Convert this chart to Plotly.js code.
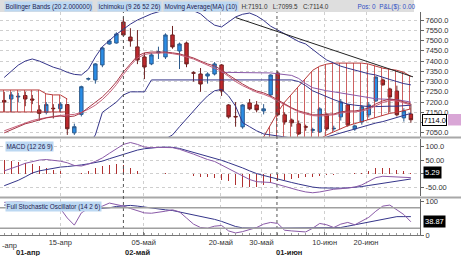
<!DOCTYPE html>
<html><head><meta charset="utf-8">
<script src="https://cdn.plot.ly/plotly-3.0.1.min.js"></script>
<style>html,body{margin:0;padding:0;background:#fff}#c{width:461px;height:256px}</style>
</head><body><div id="c"></div>
<script>
// ---- data (index = trading day) ----
const idx = Array.from({length:59},(_,i)=>i);
const openP  = [7208,7215,7225,7232,7215,7162,7150,7170,7168,7188,7050,7140,7312,7308,7381,7483,7488,7590,7517,7469,7420,7386,7440,7420,7527,7449,7488,7343,7337,7327,7337,7381,7186,7130,7079,7196,7186,7157,7235,7342,7138,7113,7094,7080,7062,7055,7138,7070,7128,7186,7069,7103,7138,7206,7308,7264,7254,7123,7142];
const highP  = [7250,7250,7245,7250,7235,7185,7200,7190,7200,7190,7095,7280,7320,7390,7470,7505,7540,7614,7560,7551,7440,7440,7470,7535,7571,7490,7495,7350,7366,7345,7395,7385,7190,7200,7190,7215,7205,7190,7335,7350,7150,7120,7110,7090,7075,7175,7145,7085,7215,7190,7090,7185,7200,7325,7315,7270,7280,7170,7191];
const lowP   = [7152,7150,7200,7180,7190,7110,7140,7120,7150,7040,7040,7130,7305,7290,7370,7480,7485,7520,7470,7385,7312,7380,7410,7410,7460,7361,7370,7300,7250,7290,7330,7230,7120,7080,7070,7160,7150,7140,7225,7130,7090,7080,7040,7060,7050,7050,7060,7060,7110,7080,7060,7090,7125,7200,7280,7150,7130,7105,7099.5];
const closeP = [7200,7235,7228,7215,7210,7145,7188,7168,7190,7070,7080,7275,7314,7386,7464,7498,7532,7527,7498,7405,7371,7430,7445,7527,7469,7483,7386,7341,7288,7337,7386,7254,7128,7128,7186,7167,7162,7167,7332,7138,7103,7099,7045,7078,7066,7167,7069,7072,7201,7089,7084,7177,7186,7322,7284,7225,7138,7157,7114];

const bbUpper = [7320,7350,7380,7400,7410,7400,7385,7370,7360,7345,7335,7332,7360,7420,7470,7500,7530,7555,7580,7600,7615,7630,7640,7650,7660,7665,7660,7645,7630,7600,7575,7566,7590,7615,7628,7634,7620,7598,7570,7551,7535,7515,7495,7483,7455,7430,7405,7390,7375,7365,7355,7345,7338,7332,7320,7310,7300,7290,7284];
const bbLower = [7000,6990,6985,6980,6975,6975,6970,6965,6960,6960,6955,6950,6950,6955,6960,6970,6980,6985,6990,6995,7000,7005,7010,7020,7040,7080,7120,7160,7195,7230,7255,7262,7230,7180,7100,7080,7060,7045,7040,7035,7030,7025,7020,7015,7015,7020,7030,7040,7050,7060,7070,7080,7090,7098,7105,7115,7125,7135,7145];
const bbMiddle = [7060,7072,7085,7098,7110,7118,7125,7130,7135,7138,7140,7150,7165,7185,7212,7245,7285,7335,7378,7415,7432,7438,7440,7440,7436,7430,7420,7410,7395,7380,7368,7350,7325,7300,7280,7262,7248,7238,7224,7205,7186,7168,7152,7142,7134,7132,7136,7138,7146,7152,7152,7156,7166,7184,7198,7208,7206,7196,7186];
const ma10 = [7050,7065,7080,7094,7103,7113,7123,7128,7132,7128,7132,7147,7172,7196,7225,7259,7298,7347,7386,7425,7440,7444,7444,7444,7440,7435,7425,7415,7400,7386,7376,7357,7332,7308,7288,7269,7254,7245,7230,7211,7191,7172,7157,7147,7138,7138,7142,7142,7152,7157,7157,7162,7172,7191,7206,7215,7211,7201,7191];
const kijun = [6990,6990,6990,6990,6990,6990,6990,6990,6990,6990,6990,6990,6990,7040,7150,7175,7200,7235,7250,7250,7250,7308,7308,7308,7308,7308,7308,7308,7308,7308,7308,7308,7308,7308,7308,7308,7308,7308,7308,7308,7308,7308,7300,7280,7255,7240,7225,7212,7200,7190,7185,7180,7178,7178,7180,7180,7180,7182,7185];
const tenkan = [null,null,null,null,null,null,null,null,null,null,null,null,null,null,null,null,null,null,null,null,null,null,null,null,null,null,null,null,null,null,null,7345,7345,7345,7345,7345,7345,7345,7342,7338,7335,7330,7315,7290,7270,7262,7255,7250,7245,7240,7235,7230,7222,7216,7215,7215,7212,7206,7200];
const cloud1X = [-0.6,0,1,2,3,4,5,6,7,8,9];
const cloud1Top = [7259,7259,7259,7259,7259,7259,7259,7240,7235,7235,7215];
const cloud1Bot = [7152,7152,7152,7152,7152,7152,7152,7152,7152,7152,7152];
const cloud2X = [37,38,39,40,41,42,43,44,45,46,47,48,49,50,51,52,53,54,55,56,57,58];
const cloud2Top = [7030,7090,7150,7200,7240,7280,7320,7355,7375,7385,7390,7390,7390,7390,7390,7385,7375,7365,7360,7355,7345,7325];
const cloud2Bot = [7020,7020,7020,7020,7020,7020,7020,7020,7020,7040,7055,7070,7085,7095,7105,7115,7125,7135,7145,7150,7160,7167];
const trendX = [33, 58.3];
const trendY = [7612, 7323];

const macdHist = [49,46,44,40,34,28,21,15,9,0,0,3,11,21,28,31,34,30,21,9,0,-2,-1,1,0,-1,-3,-10,-13,-14,-16,-23,-29,-41,-48,-50,-48,-41,-35,-29,-23,-19,-16,-14,-11,-10,-6,-4,-2,0,1,3,11,21,21,19,15,9,3];
const macdLine = [10,18,28,38,45,50,52,50,46,40,30,28,35,45,58,75,92,108,115,108,98,96,97,97,96,90,82,72,62,52,45,32,18,5,-10,-22,-30,-32,-33,-40,-48,-55,-62,-68,-71,-68,-62,-58,-56,-54,-50,-42,-30,-15,-10,-11,-13,-15,-15];
const macdSignal = [-45,-35,-25,-12,2,10,15,20,24,26,28,32,36,40,46,55,63,71,80,87,92,95,97,98,97,93,86,78,70,64,57,49,40,31,21,10,0,-7,-14,-20,-27,-33,-39,-45,-50,-53,-54,-54,-54,-53,-51,-48,-44,-40,-36,-32,-28,-24,-20];

const stochK = [96,97,97,96,95,93,90,85,78,50,29,65,78,80,85,94,90,85,78,72,65,64,66,70,74,68,50,32,22,20,26,28,12,6,10,15,22,32,37,34,14,12,10,9,20,34,30,22,32,37,30,40,52,70,85,88,75,60,38.87];
const stochD = [88,89,90,91,92,93,94,92,86,80,76,74,75,77,78,80,84,86,87,85,82,78,76,74,72,68,64,60,56,52,46,40,32,25,21,20,20,20,20,20,20,20,20,20,20,20,20,20,22,26,30,34,38,43,48,52,54,54,54];

const tickVals = [8, 19.9, 30.9, 36.7, 45.7, 51.6];
const tickText = ['15-апр','05-май','20-май','30-май','10-июн','20-июн'];
const firstLabel = '-апр';
const monthVals = [3.4, 19, 40.6];
const monthText = ['01-апр','02-май','01-июн'];
const monthLines = [17, 38.9];
const priceTicks = [7050,7100,7150,7200,7250,7300,7350,7400,7450,7500,7550,7600];
const priceTickText = ['7050.0','','7150.0','7200.0','7250.0','7300.0','7350.0','7400.0','7450.0','7500.0','7550.0','7600.0'];
const macdTicks = [-50,0,50,100];
const macdTickText = ['-50.00','0.00','50.00','100.0'];
const stochTicks = [0,100];
const lastClose = 7114.0, lastMacd = 5.29, lastStoch = 38.87;

// ---- layout helpers ----
const W=420, H=235;
const px = x => x/W, py = y => (H-y)/H;
const FONT = 'Liberation Sans, Arial, sans-serif';
const navy = '#35358a', purple = '#8a5aa8', pink = '#c8607a', red = '#b83a3a';

const traces = [];
const hatch = {shape:'|',size:7,solidity:0.14,fgcolor:'rgba(190,50,50,0.8)',bgcolor:'rgba(255,255,255,0)'};
traces.push({x:cloud1X,y:cloud1Bot,type:'scatter',mode:'lines',line:{color:red,width:1},hoverinfo:'skip',xaxis:'x',yaxis:'y'});
traces.push({x:cloud1X,y:cloud1Top,type:'scatter',mode:'lines',line:{color:red,width:1},fill:'tonexty',fillcolor:'rgba(220,120,120,0.06)',fillpattern:hatch,hoverinfo:'skip',xaxis:'x',yaxis:'y'});
traces.push({x:cloud2X,y:cloud2Bot,type:'scatter',mode:'lines',line:{color:red,width:1},hoverinfo:'skip',xaxis:'x',yaxis:'y'});
traces.push({x:cloud2X,y:cloud2Top,type:'scatter',mode:'lines',line:{color:red,width:1},fill:'tonexty',fillcolor:'rgba(220,120,120,0.06)',fillpattern:hatch,hoverinfo:'skip',xaxis:'x',yaxis:'y'});
traces.push({type:'candlestick',x:idx,open:openP,high:highP,low:lowP,close:closeP,xaxis:'x',yaxis:'y',hoverinfo:'skip',
  increasing:{line:{color:'#2c5a8c',width:1},fillcolor:'#2b8de6'},
  decreasing:{line:{color:'#6e2020',width:1},fillcolor:'#c0282c'},whiskerwidth:0});
const ln=(y,c,w)=>({x:idx,y:y,type:'scatter',mode:'lines',line:{color:c,width:w},hoverinfo:'skip',xaxis:'x',yaxis:'y'});
traces.push(ln(bbUpper,navy,1));
traces.push(ln(bbLower,navy,1));
traces.push(ln(kijun,navy,1));
traces.push(ln(tenkan,purple,1));
traces.push(ln(bbMiddle,pink,1));
traces.push(ln(ma10,'#a83848',1));
traces.push({x:trendX,y:trendY,type:'scatter',mode:'lines',line:{color:'#222',width:1},hoverinfo:'skip',xaxis:'x',yaxis:'y'});
traces.push({x:idx,y:macdHist,type:'bar',width:0.16,marker:{color:'#b03030',line:{width:0}},hoverinfo:'skip',xaxis:'x',yaxis:'y2'});
traces.push({x:idx,y:macdSignal,type:'scatter',mode:'lines',line:{color:navy,width:1},hoverinfo:'skip',xaxis:'x',yaxis:'y2'});
traces.push({x:idx,y:macdLine,type:'scatter',mode:'lines',line:{color:purple,width:1},hoverinfo:'skip',xaxis:'x',yaxis:'y2'});
traces.push({x:idx,y:stochD,type:'scatter',mode:'lines',line:{color:navy,width:1},hoverinfo:'skip',xaxis:'x',yaxis:'y3'});
traces.push({x:idx,y:stochK,type:'scatter',mode:'lines',line:{color:purple,width:1},hoverinfo:'skip',xaxis:'x',yaxis:'y3'});

const shapes = [];
shapes.push({type:'rect',xref:'paper',yref:'paper',x0:0,x1:px(414),y0:py(12),y1:1,fillcolor:'#dedede',line:{width:0},layer:'below'});
[137.5,197.5].forEach(y=>shapes.push({type:'line',xref:'paper',yref:'paper',x0:0,x1:1.1,y0:py(y),y1:py(y),line:{color:'#a8a8a8',width:2}}));
monthLines.forEach(v=>shapes.push({type:'line',xref:'x',yref:'paper',x0:v,x1:v,y0:0,y1:py(12),line:{color:'#555',width:1,dash:'dot'}}));
[80,20].forEach(v=>shapes.push({type:'line',xref:'paper',yref:'y3',x0:0,x1:1,y0:v,y1:v,line:{color:'#a0a0a0',width:1.5}}));
shapes.push({type:'rect',xref:'paper',yref:'y',x0:px(448),x1:px(462),y0:lastClose-28,y1:lastClose+28,fillcolor:'#d9a6d6',line:{width:0}});

const ann = [];
const HF = 6.4;
const hdr=(t,x,bg,col)=>ann.push({xref:'paper',yref:'paper',x:px(x),y:py(6.5),xanchor:'left',yanchor:'middle',text:t,showarrow:false,
  font:{family:FONT,size:HF,color:col},bgcolor:bg,borderpad:0.5});
hdr('Bollinger Bands (20 2.000000)',4,'#bcd8f2','#1c2050');
hdr('Ichimoku (9 26 52 26)',97,'#bcd8f2','#1c2050');
hdr('Moving Average(MA) (10)',163,'#bcd8f2','#1c2050');
hdr('H:7191.0&nbsp;&nbsp;&nbsp;L:7099.5&nbsp;&nbsp;&nbsp;C:7114.0',240,'rgba(0,0,0,0)','#333');
hdr('Pos: 0&nbsp;&nbsp;P&amp;L($): 0.00',356,'rgba(0,0,0,0)','#2f4fc4');
ann.push({xref:'paper',yref:'paper',x:px(5),y:py(146),xanchor:'left',yanchor:'middle',text:'MACD (12 26 9)',showarrow:false,font:{family:FONT,size:HF,color:'#1c2050'},bgcolor:'#bcd8f2',borderpad:0.5});
ann.push({xref:'paper',yref:'paper',x:px(5),y:py(206),xanchor:'left',yanchor:'middle',text:'Full Stochastic Oscillator (14 2 6)',showarrow:false,font:{family:FONT,size:HF,color:'#1c2050'},bgcolor:'#bcd8f2',borderpad:0.5});
ann.push({xref:'paper',yref:'y',x:px(422),y:lastClose,xanchor:'left',yanchor:'middle',text:lastClose.toFixed(1),showarrow:false,bgcolor:'#fff',bordercolor:'#000',borderwidth:1,borderpad:0.5,font:{family:FONT,size:7.5,color:'#000'}});
ann.push({xref:'paper',yref:'y2',x:px(423),y:lastMacd,xanchor:'left',yanchor:'middle',text:lastMacd.toFixed(2),showarrow:false,bgcolor:'#000',borderpad:1,font:{family:FONT,size:7.5,color:'#fff'}});
ann.push({xref:'paper',yref:'y3',x:px(423),y:lastStoch,xanchor:'left',yanchor:'middle',text:lastStoch.toFixed(2),showarrow:false,bgcolor:'#000',borderpad:1,font:{family:FONT,size:7.5,color:'#fff'}});
ann.push({xref:'paper',yref:'paper',x:0,y:py(245),xanchor:'left',yanchor:'middle',text:firstLabel,showarrow:false,font:{family:FONT,size:7.5,color:'#333'}});
monthVals.forEach((v,k)=>ann.push({xref:'x',yref:'paper',x:v,y:py(253),xanchor:'center',yanchor:'middle',text:'<b>'+monthText[k]+'</b>',showarrow:false,font:{family:FONT,size:7.5,color:'#222'}}));

const yCommon = {side:'right',anchor:'x',showline:true,linecolor:'#666',linewidth:1,ticks:'outside',ticklen:3,tickcolor:'#666',
  tickfont:{family:FONT,size:7.5,color:'#333'},showgrid:true,gridcolor:'#cfcfcf',griddash:'dot',gridwidth:1,zeroline:false,fixedrange:true};

const layout = {
  width:461,height:256,margin:{l:0,r:41,t:0,b:21},paper_bgcolor:'#fff',plot_bgcolor:'#fff',showlegend:false,
  font:{family:FONT},bargap:0,
  xaxis:{range:[-0.6,59.3],anchor:'y3',rangeslider:{visible:false},tickmode:'array',tickvals:tickVals,ticktext:tickText,
    ticks:'inside',ticklen:3,tickcolor:'#777',showline:true,linecolor:'#777',linewidth:1,
    tickfont:{family:FONT,size:7.5,color:'#333'},showgrid:true,gridcolor:'#cfcfcf',griddash:'dot',zeroline:false,
    minor:{dtick:1,tick0:0,ticks:'inside',ticklen:2,tickcolor:'#999',showgrid:false}},
  yaxis:Object.assign({},yCommon,{domain:[py(138),py(12)],range:[7025,7639],tickmode:'array',tickvals:priceTicks,ticktext:priceTickText}),
  yaxis2:Object.assign({},yCommon,{domain:[py(196),py(139)],range:[-83,128],tickmode:'array',tickvals:macdTicks,ticktext:macdTickText}),
  yaxis3:Object.assign({},yCommon,{domain:[0,py(199)],range:[0,105.9],tickmode:'array',tickvals:stochTicks,ticktext:['0','100'],showgrid:false}),
  shapes:shapes,annotations:ann
};
Plotly.newPlot('c',traces,layout,{displayModeBar:false,staticPlot:true});
</script></body></html>
